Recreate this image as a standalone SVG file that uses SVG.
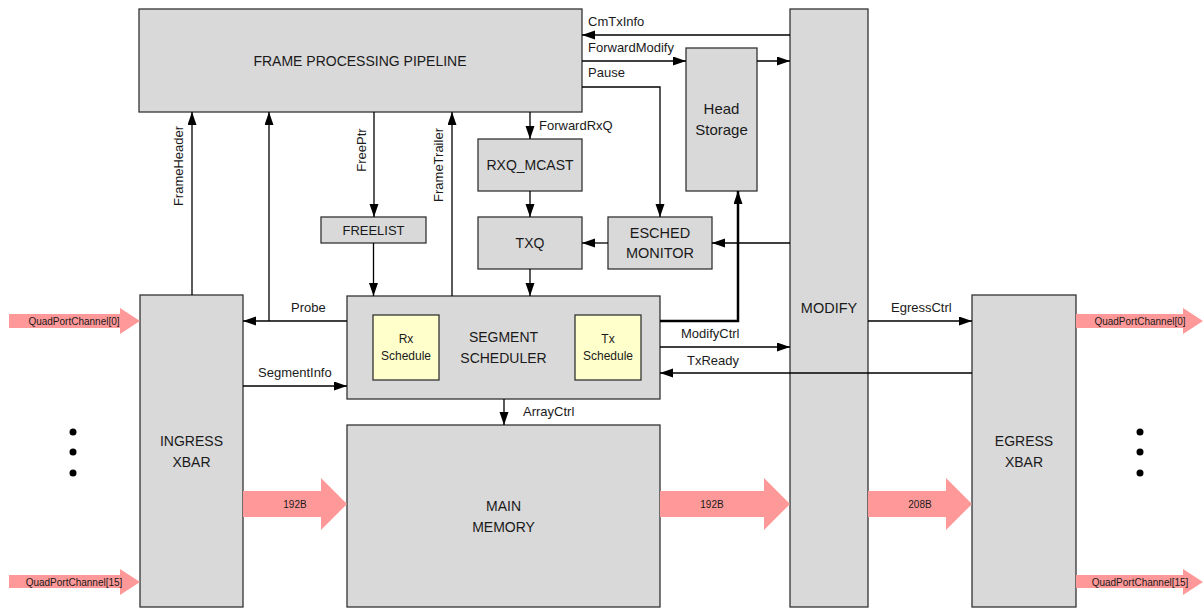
<svg xmlns="http://www.w3.org/2000/svg" width="1203" height="608" viewBox="0 0 1203 608">
<style>
text{font-family:"Liberation Sans",Arial,sans-serif;fill:#1a1a1a}
.box{fill:#d9d9d9;stroke:#333;stroke-width:1.3}
.ybox{fill:#ffffcc;stroke:#333;stroke-width:1.3}
.big{font-size:14px;text-anchor:middle}
.sm{font-size:13px}
.sch{font-size:12px;text-anchor:middle}
.pk{fill:#ff9999}
.pt{font-size:10px;text-anchor:middle}
.ln{fill:none;stroke:#000;stroke-width:1.3}
.thick{fill:none;stroke:#000;stroke-width:2.5}
</style>
<defs>
<marker id="ah" markerWidth="13" markerHeight="10" refX="13" refY="4.5" orient="auto" markerUnits="userSpaceOnUse"><path d="M0,0 L13,4.5 L0,9z" fill="#000"/></marker>
</defs>

<g id="frame-pipeline"><rect class="box" x="139" y="9" width="443" height="103"/><text class="big" x="360" y="66">FRAME PROCESSING PIPELINE</text></g>
<g id="modify"><rect class="box" x="790" y="9" width="78" height="598"/><text class="big" x="829" y="313" style="font-size:14.5px">MODIFY</text></g>
<g id="head-storage"><rect class="box" x="686" y="48" width="71" height="143"/><text class="big" x="721.5" y="114" style="font-size:15px">Head</text><text class="big" x="721.5" y="135" style="font-size:15px">Storage</text></g>
<g id="rxq-mcast"><rect class="box" x="478" y="139" width="104" height="52"/><text class="big" x="530" y="170">RXQ_MCAST</text></g>
<g id="freelist"><rect class="box" x="321" y="217" width="105" height="26"/><text class="big" x="373.5" y="235" style="font-size:13px">FREELIST</text></g>
<g id="txq"><rect class="box" x="478" y="217" width="104" height="52"/><text class="big" x="530" y="248">TXQ</text></g>
<g id="esched-monitor"><rect class="box" x="608" y="217" width="104" height="52"/><text class="big" x="660" y="238" style="font-size:14.5px">ESCHED</text><text class="big" x="660" y="258" style="font-size:14.5px">MONITOR</text></g>
<g id="segment-scheduler"><rect class="box" x="347" y="296" width="313" height="103"/><text class="big" x="503.5" y="342">SEGMENT</text><text class="big" x="503.5" y="363">SCHEDULER</text>
<g id="rx-schedule"><rect class="ybox" x="373" y="315" width="66" height="65"/><text class="sch" x="406" y="343">Rx</text><text class="sch" x="406" y="360">Schedule</text></g>
<g id="tx-schedule"><rect class="ybox" x="575" y="315" width="66" height="65"/><text class="sch" x="608" y="343">Tx</text><text class="sch" x="608" y="360">Schedule</text></g></g>
<g id="ingress-xbar"><rect class="box" x="140" y="295" width="103" height="312"/><text class="big" x="191.5" y="446">INGRESS</text><text class="big" x="191.5" y="467">XBAR</text></g>
<g id="main-memory"><rect class="box" x="347" y="425" width="313" height="182"/><text class="big" x="503.5" y="511">MAIN</text><text class="big" x="503.5" y="532">MEMORY</text></g>
<g id="egress-xbar"><rect class="box" x="972" y="295" width="104" height="312"/><text class="big" x="1024" y="446">EGRESS</text><text class="big" x="1024" y="467">XBAR</text></g>

<g id="connectors">
<line class="ln" x1="790" y1="35" x2="582" y2="35" marker-end="url(#ah)"/>
<line class="ln" x1="582" y1="61" x2="686" y2="61" marker-end="url(#ah)"/>
<line class="ln" x1="757" y1="61" x2="790" y2="61" marker-end="url(#ah)"/>
<polyline class="ln" points="582,87 660,87 660,217" marker-end="url(#ah)"/>
<line class="ln" x1="530" y1="112" x2="530" y2="139" marker-end="url(#ah)"/>
<line class="ln" x1="530" y1="191" x2="530" y2="217" marker-end="url(#ah)"/>
<line class="ln" x1="530" y1="269" x2="530" y2="296" marker-end="url(#ah)"/>
<line class="ln" x1="608" y1="243" x2="582" y2="243" marker-end="url(#ah)"/>
<line class="ln" x1="790" y1="243" x2="712" y2="243" marker-end="url(#ah)"/>
<polyline class="thick" points="660,321 738,321 738,191" marker-end="url(#ah)"/>
<line class="ln" x1="660" y1="347" x2="790" y2="347" marker-end="url(#ah)"/>
<line class="ln" x1="972" y1="373" x2="660" y2="373" marker-end="url(#ah)"/>
<line class="ln" x1="868" y1="321" x2="972" y2="321" marker-end="url(#ah)"/>
<line class="ln" x1="504" y1="399" x2="504" y2="425" marker-end="url(#ah)"/>
<line class="ln" x1="373.5" y1="243" x2="373.5" y2="296" marker-end="url(#ah)"/>
<line class="ln" x1="374" y1="112" x2="374" y2="217" marker-end="url(#ah)"/>
<line class="ln" x1="452" y1="296" x2="452" y2="112" marker-end="url(#ah)"/>
<line class="ln" x1="192" y1="295" x2="192" y2="112" marker-end="url(#ah)"/>
<line class="ln" x1="347" y1="321" x2="243" y2="321" marker-end="url(#ah)"/>
<line class="ln" x1="269" y1="321" x2="269" y2="112" marker-end="url(#ah)"/>
<line class="ln" x1="243" y1="386" x2="347" y2="386" marker-end="url(#ah)"/>
</g>

<g id="connector-labels">
<text class="sm" x="588" y="26">CmTxInfo</text>
<text class="sm" x="588" y="52">ForwardModify</text>
<text class="sm" x="588" y="77">Pause</text>
<text class="sm" x="539" y="130">ForwardRxQ</text>
<text class="sm" x="681" y="338">ModifyCtrl</text>
<text class="sm" x="687" y="365">TxReady</text>
<text class="sm" x="523" y="416">ArrayCtrl</text>
<text class="sm" x="891" y="312">EgressCtrl</text>
<text class="sm" x="291" y="312">Probe</text>
<text class="sm" x="258" y="377">SegmentInfo</text>
<text class="sm" text-anchor="middle" transform="translate(183,166) rotate(-90)">FrameHeader</text>
<text class="sm" text-anchor="middle" transform="translate(366,150) rotate(-90)">FreePtr</text>
<text class="sm" text-anchor="middle" transform="translate(443,165) rotate(-90)">FrameTrailer</text>
</g>

<g id="data-arrows">
<polygon class="pk" points="9,314 120,314 120,308 140,321 120,334 120,328 9,328"/>
<text class="pt" x="74" y="325">QuadPortChannel[0]</text>
<polygon class="pk" points="9,575 120,575 120,569 140,582 120,595 120,588 9,588"/>
<text class="pt" x="74" y="585.5">QuadPortChannel[15]</text>
<polygon class="pk" points="243,491 321,491 321,478 347,504 321,530 321,517 243,517"/>
<text class="pt" x="295" y="507.5">192B</text>
<polygon class="pk" points="660,491 764,491 764,478 790,504 764,530 764,517 660,517"/>
<text class="pt" x="712" y="507.5">192B</text>
<polygon class="pk" points="868,491 946,491 946,478 972,504 946,530 946,517 868,517"/>
<text class="pt" x="920" y="507.5">208B</text>
<polygon class="pk" points="1076,314 1183,314 1183,308 1203,321 1183,334 1183,328 1076,328"/>
<text class="pt" x="1140" y="325">QuadPortChannel[0]</text>
<polygon class="pk" points="1076,575 1183,575 1183,569 1203,582 1183,595 1183,588 1076,588"/>
<text class="pt" x="1140" y="585.5">QuadPortChannel[15]</text>
</g>

<g id="ellipsis">
<circle cx="73" cy="432" r="3.5"/><circle cx="73" cy="452" r="3.5"/><circle cx="73" cy="473" r="3.5"/>
<circle cx="1140" cy="432" r="3.5"/><circle cx="1140" cy="452" r="3.5"/><circle cx="1140" cy="473" r="3.5"/>
</g>
</svg>
